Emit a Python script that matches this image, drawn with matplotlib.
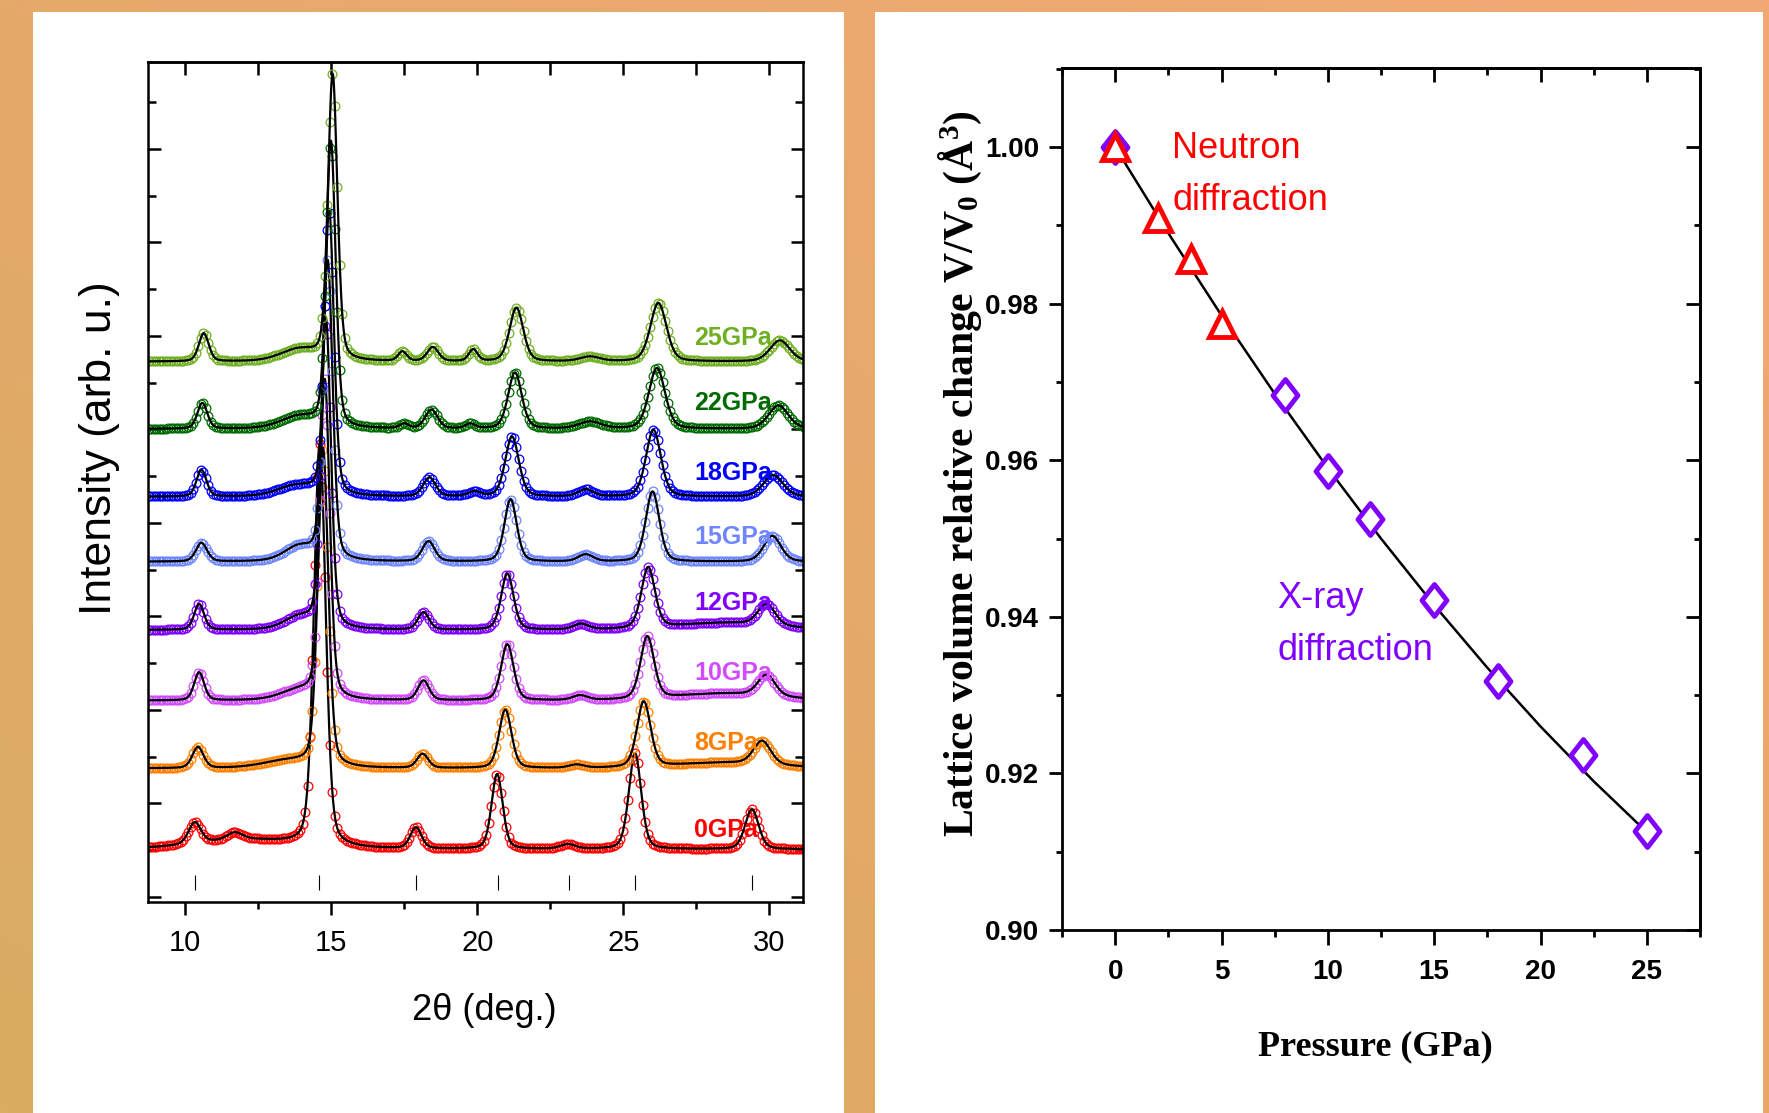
import numpy as np
import matplotlib
matplotlib.use("Agg")
import matplotlib.pyplot as plt
from matplotlib.patches import Rectangle
from matplotlib.path import Path
from matplotlib.ticker import MultipleLocator

plt.rcParams["font.family"] = ["Liberation Sans", "DejaVu Sans"]
plt.rcParams["mathtext.fontset"] = "custom"
plt.rcParams["mathtext.rm"] = "Liberation Serif:bold"
plt.rcParams["mathtext.it"] = "Liberation Serif:bold"
plt.rcParams["mathtext.bf"] = "Liberation Serif:bold"

# ---- diffraction patterns (offset, arb. units) ----
pressures = ["0GPa", "8GPa", "10GPa", "12GPa", "15GPa", "18GPa", "22GPa", "25GPa"]
colors = ["#FF0000", "#FF8000", "#D24BFF", "#8000FF", "#6F86FF", "#0000FF", "#006B00", "#6FAF22"]
baselines = [1.02, 2.75, 4.20, 5.71, 7.17, 8.56, 10.01, 11.45]
label_y = [1.43, 3.29, 4.79, 6.29, 7.70, 9.07, 10.56, 11.95]

# peaks: (2theta, height above baseline, fwhm)
peaks_0 = [(10.33, 0.45, 0.50), (11.70, 0.15, 0.60), (12.0, 0.20, 4.0), (14.61, 8.6, 0.47),
           (17.90, 0.45, 0.45), (20.68, 1.60, 0.45), (23.10, 0.10, 0.60), (25.40, 2.05, 0.50),
           (29.40, 0.85, 0.55)]
peaks_8 = [(10.44, 0.45, 0.45), (13.5, 0.15, 2.0), (14.72, 6.8, 0.42), (18.13, 0.30, 0.45),
           (20.96, 1.25, 0.50), (23.40, 0.07, 0.60), (25.70, 1.40, 0.55), (29.75, 0.50, 0.70),
           (28.5, 0.12, 4.0)]
peaks_10 = [(10.48, 0.60, 0.40), (13.9, 0.20, 1.5), (14.78, 6.8, 0.40), (18.16, 0.42, 0.45),
            (21.03, 1.20, 0.50), (23.52, 0.10, 0.60), (25.82, 1.33, 0.55), (29.90, 0.45, 0.70),
            (28.5, 0.15, 4.0)]
peaks_12 = [(10.48, 0.55, 0.40), (13.9, 0.25, 1.2), (14.82, 6.6, 0.40), (18.16, 0.37, 0.45),
            (21.03, 1.20, 0.50), (23.55, 0.12, 0.60), (25.85, 1.30, 0.55), (29.90, 0.45, 0.70),
            (28.5, 0.15, 4.0)]
peaks_15 = [(10.56, 0.40, 0.45), (13.9, 0.30, 1.2), (14.88, 6.4, 0.40), (18.33, 0.43, 0.50),
            (21.14, 1.33, 0.50), (23.71, 0.15, 0.60), (26.00, 1.50, 0.55), (30.10, 0.55, 0.70)]
peaks_18 = [(10.56, 0.57, 0.40), (13.8, 0.22, 1.5), (14.93, 6.1, 0.38), (18.36, 0.40, 0.50),
            (19.90, 0.10, 0.50), (21.19, 1.28, 0.55), (23.71, 0.15, 0.60), (26.03, 1.43, 0.60),
            (30.13, 0.46, 0.80)]
peaks_22 = [(10.59, 0.55, 0.40), (13.9, 0.25, 1.5), (14.99, 6.1, 0.38), (17.50, 0.10, 0.35),
            (18.43, 0.40, 0.50), (19.76, 0.10, 0.40), (21.29, 1.20, 0.55), (23.86, 0.15, 0.90),
            (26.15, 1.30, 0.65), (30.31, 0.50, 0.80)]
peaks_25 = [(10.64, 0.60, 0.40), (13.9, 0.25, 1.5), (15.05, 6.1, 0.38), (17.44, 0.20, 0.35),
            (18.48, 0.30, 0.45), (19.86, 0.25, 0.35), (21.34, 1.15, 0.55), (23.86, 0.10, 0.80),
            (26.20, 1.25, 0.65), (30.36, 0.45, 0.80)]
peak_tables = [peaks_0, peaks_8, peaks_10, peaks_12, peaks_15, peaks_18, peaks_22, peaks_25]

# Bragg reflection markers
reflections = [10.33, 14.60, 17.90, 20.70, 23.15, 25.40, 29.40]

# ---- equation of state ----
neutron_p = [0.0, 2.0, 3.55, 5.0]
neutron_v = [1.000, 0.9910, 0.9857, 0.9774]
xray_p = [0, 8, 10, 12, 15, 18, 22, 25]
xray_v = [1.000, 0.9683, 0.9586, 0.9525, 0.9422, 0.9318, 0.9223, 0.9126]
fit_p = [0, 2.5, 5, 7.5, 10, 12.5, 15, 17.5, 20, 22.5, 25]
fit_v = [1.0000, 0.9890, 0.9785, 0.9685, 0.9590, 0.9500, 0.9415, 0.9335, 0.9260, 0.9190, 0.9125]


def pattern(x, base, peaks, eta=0.3):
    y = np.full_like(x, base)
    for c, h, w in peaks:
        d = (x - c) / w
        y += h * (eta / (1 + 4 * d ** 2) + (1 - eta) * np.exp(-4 * np.log(2) * d ** 2))
    return y


W, H = 1769, 1113
fig = plt.figure(figsize=(W / 100, H / 100), dpi=100)

# orange backdrop with two white panels
bg = fig.add_axes([0, 0, 1, 1], zorder=-10)
tl, tr = np.array([229, 169, 106]), np.array([243, 169, 118])
bl, br = np.array([216, 172, 97]), np.array([232, 166, 104])
u = np.linspace(0, 1, 200)[None, :, None]
v = np.linspace(0, 1, 120)[:, None, None]
grad = ((1 - v) * ((1 - u) * tl + u * tr) + v * ((1 - u) * bl + u * br)) / 255
bg.imshow(grad, aspect="auto", extent=[0, 1, 0, 1])
bg.axis("off")
for x0, x1 in [(33, 844), (875, 1763)]:
    fig.add_artist(Rectangle((x0 / W, 0), (x1 - x0) / W, (H - 12) / H,
                             transform=fig.transFigure, facecolor="white",
                             edgecolor="none", zorder=-5))

# ---- left: stacked diffraction patterns ----
ax1 = fig.add_axes([148 / W, (H - 902) / H, 655 / W, 840 / H])
ax1.set_xlim(8.73, 31.15)
ax1.set_ylim(-0.107, 17.857)
x_line = np.arange(8.6, 31.3, 0.01)
x_pts = np.arange(8.75, 31.2, 0.085)
for name, col, base, ly, pk in zip(pressures, colors, baselines, label_y, peak_tables):
    ax1.plot(x_pts, pattern(x_pts, base, pk), "o", mfc="none", mec=col, ms=6.3, mew=0.9)
    ax1.plot(x_line, pattern(x_line, base, pk), "-", color="black", lw=1.6)
    ax1.text(27.42, ly, name, color=col, fontsize=18, fontweight="bold", ha="left", va="center")
ax1.vlines(reflections, 0.15, 0.47, color="black", lw=0.8)

ax1.xaxis.set_major_locator(MultipleLocator(5))
ax1.xaxis.set_minor_locator(MultipleLocator(2.5))
ax1.yaxis.set_major_locator(MultipleLocator(2))
ax1.yaxis.set_minor_locator(MultipleLocator(1))
ax1.tick_params(axis="x", which="major", direction="out", length=9.5, width=1.8,
                labelsize=21, pad=10)
ax1.tick_params(axis="x", which="minor", direction="out", length=5, width=1.8)
ax1.tick_params(axis="y", which="major", direction="in", length=9, width=1.8,
                left=True, right=True, labelleft=False)
ax1.tick_params(axis="y", which="minor", direction="in", length=6, width=1.8,
                left=True, right=True)
top1 = ax1.secondary_xaxis("top")
top1.xaxis.set_major_locator(MultipleLocator(2.5))
top1.tick_params(axis="x", direction="in", length=9, width=1.8, labeltop=False)
for a in (ax1, top1):
    for s in a.spines.values():
        s.set_linewidth(1.8)

ax1.set_xlabel("2θ (deg.)", fontsize=26)
ax1.xaxis.label.set_va("center")
ax1.xaxis.set_label_coords(0.513, -0.1286)
ax1.set_ylabel("Intensity (arb. u.)", fontsize=32)
ax1.yaxis.label.set_va("center")
ax1.yaxis.set_label_coords(-0.0748, 0.5405)

# ---- right: relative volume vs pressure ----
ax2 = fig.add_axes([1062 / W, (H - 930) / H, 638 / W, 862 / H])
ax2.set_xlim(-2.5, 27.5)
ax2.set_ylim(0.90, 1.0101)

diamond = Path([(0, 1), (0.78, 0), (0, -1), (-0.78, 0), (0, 1)],
               [Path.MOVETO, Path.LINETO, Path.LINETO, Path.LINETO, Path.CLOSEPOLY])
ax2.plot(fit_p, fit_v, "-", color="black", lw=1.8, zorder=2)
ax2.plot(xray_p, xray_v, linestyle="none", marker=diamond, ms=23, mfc="white",
         mec="#8000FF", mew=3.5, zorder=3)
ax2.plot(neutron_p, neutron_v, linestyle="none", marker="^", ms=19, mfc="white",
         mec="#FF0000", mew=3.5, zorder=4)

ax2.text(2.68, 0.99987, "Neutron", color="#FF0000", fontsize=26, ha="left", va="center")
ax2.text(2.68, 0.99323, "diffraction", color="#FF0000", fontsize=26, ha="left", va="center")
ax2.text(7.63, 0.9423, "X-ray", color="#8000FF", fontsize=26, ha="left", va="center")
ax2.text(7.63, 0.93566, "diffraction", color="#8000FF", fontsize=26, ha="left", va="center")

p_ticks = [0, 5, 10, 15, 20, 25]
v_ticks = [0.90, 0.92, 0.94, 0.96, 0.98, 1.00]
ax2.set_xticks(p_ticks, [str(p) for p in p_ticks], fontsize=20, fontweight="bold")
ax2.set_yticks(v_ticks, [f"{t:.2f}" for t in v_ticks], fontsize=20, fontweight="bold")
ax2.xaxis.set_minor_locator(MultipleLocator(2.5))
ax2.yaxis.set_minor_locator(MultipleLocator(0.01))
ax2.tick_params(axis="x", which="major", direction="out", length=11, width=2, pad=10)
ax2.tick_params(axis="x", which="minor", direction="out", length=5, width=2)
ax2.tick_params(axis="y", which="major", direction="out", length=9.5, width=2, pad=7)
ax2.tick_params(axis="y", which="minor", direction="out", length=4.5, width=2)
top2 = ax2.secondary_xaxis("top")
top2.set_xticks(p_ticks)
top2.xaxis.set_minor_locator(MultipleLocator(2.5))
top2.tick_params(axis="x", which="major", direction="in", length=10, width=2, labeltop=False)
top2.tick_params(axis="x", which="minor", direction="in", length=5, width=2)
right2 = ax2.secondary_yaxis("right")
right2.set_yticks(v_ticks)
right2.yaxis.set_minor_locator(MultipleLocator(0.01))
right2.tick_params(axis="y", which="major", direction="in", length=10, width=2, labelright=False)
right2.tick_params(axis="y", which="minor", direction="in", length=4.5, width=2)
for a in (ax2, top2, right2):
    for s in a.spines.values():
        s.set_linewidth(2)

ax2.set_xlabel("Pressure (GPa)", fontsize=26, family="Liberation Serif", fontweight="bold")
ax2.xaxis.label.set_va("center")
ax2.xaxis.set_label_coords(0.4906, -0.1357)
ax2.set_ylabel(r"Lattice volume relative change V/V$_0$ (Å$^3$)", fontsize=30,
               family="Liberation Serif", fontweight="bold")
ax2.yaxis.label.set_va("center")
ax2.yaxis.set_label_coords(-0.159, 0.529)

fig.savefig("out.png", dpi=100)
